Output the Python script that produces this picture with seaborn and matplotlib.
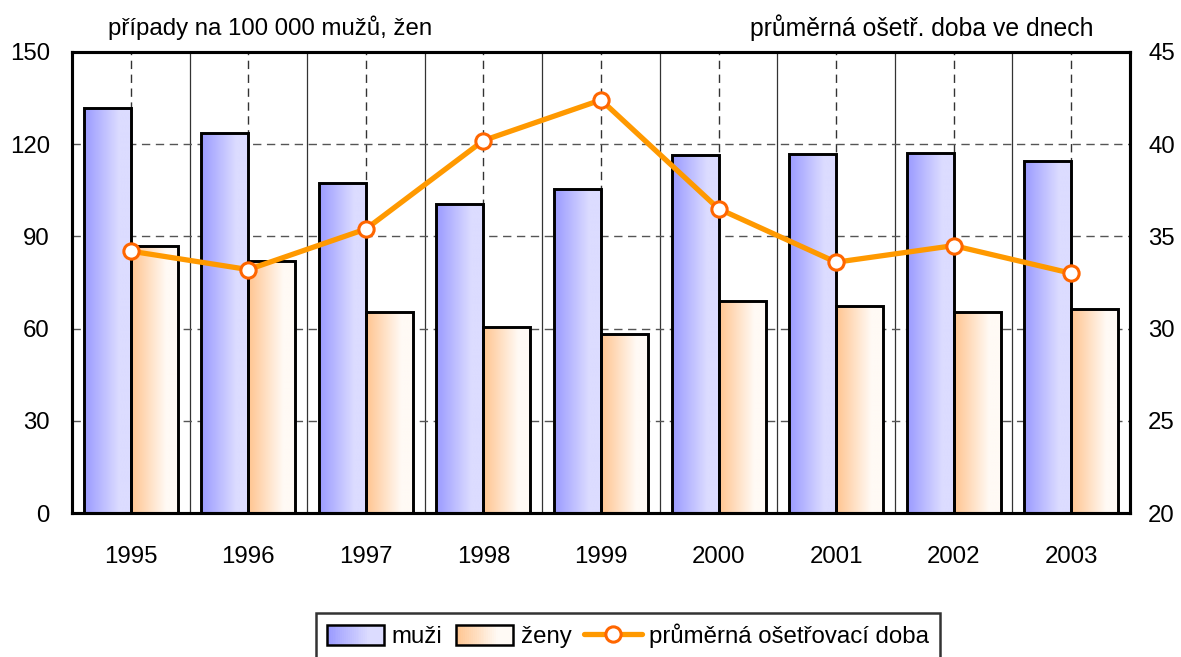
import numpy as np
import pandas as pd
import matplotlib
matplotlib.use('Agg')
import matplotlib.pyplot as plt
import seaborn as sns
from matplotlib.patches import Rectangle, Patch
from matplotlib.lines import Line2D
from matplotlib.legend_handler import HandlerBase
from matplotlib.colors import LinearSegmentedColormap, to_rgb

years = ['1995', '1996', '1997', '1998', '1999', '2000', '2001', '2002', '2003']
muzi = [131.9, 123.6, 107.4, 100.5, 105.3, 116.4, 116.8, 117.1, 114.6]
zeny = [87.0, 82.1, 65.4, 60.5, 58.2, 69.1, 67.4, 65.4, 66.4]
doba = [34.2, 33.2, 35.4, 40.2, 42.4, 36.5, 33.6, 34.5, 33.0]

series_names = ['muži', 'ženy']
line_name = 'průměrná ošetřovací doba'
left_label = 'případy na 100 000 mužů, žen'
right_label = 'průměrná ošetř. doba ve dnech'

grad_colors = {'muži': ('#9a9aff', '#dcdcff'), 'ženy': ('#ffc48f', '#fffaf5')}
line_color = '#ff9900'
marker_edge = '#ff6600'

sns.set_theme(style='white')
plt.rcParams['font.family'] = ['Liberation Sans', 'DejaVu Sans']
plt.rcParams['text.color'] = 'black'
plt.rcParams['xtick.color'] = 'black'
plt.rcParams['ytick.color'] = 'black'
FS = 17.3

df = pd.DataFrame({
    'rok': years * 2,
    'hodnota': muzi + zeny,
    'pohlaví': [series_names[0]] * len(years) + [series_names[1]] * len(years),
})
dfl = pd.DataFrame({'rok': years, 'doba': doba})

fig = plt.figure(figsize=(11.81, 6.57), dpi=100)
ax = fig.add_axes([72 / 1181, 1 - 513 / 657, (1130 - 72) / 1181, (513 - 52) / 657])

sns.barplot(data=df, x='rok', y='hodnota', hue='pohlaví', hue_order=series_names,
            palette=['#bbbbff', '#ffe0c0'], width=0.8, ax=ax, legend=False,
            edgecolor='black', linewidth=2.1, saturation=1)

# gradient fill clipped to each bar
n = len(years)
for i, p in enumerate(ax.patches[:2 * n]):
    name = series_names[i // n]
    cmap = LinearSegmentedColormap.from_list(name, list(grad_colors[name]))
    x0, y0 = p.get_x(), p.get_y()
    w, h = p.get_width(), p.get_height()
    grad = np.linspace(0, 1, 256).reshape(1, -1)
    grad = np.clip(grad * 1.35, 0, 1)
    im = ax.imshow(grad, extent=[x0, x0 + w, y0, y0 + h], aspect='auto',
                   cmap=cmap, zorder=1.5, interpolation='bilinear')
    im.set_clip_path(p)
    p.set_facecolor('none')
    p.set_zorder(2)

ax.set_xlim(-0.5, n - 0.5)
ax.set_ylim(0, 150)
ax.set_yticks([0, 30, 60, 90, 120, 150])
ax.set_xticks(range(n))
ax.set_xticklabels(years)
ax.set_xticks(np.arange(-0.5, n, 1.0), minor=True)
ax.set_axisbelow(True)
ax.grid(False)
ax.yaxis.grid(True, which='major', color='#555555', linestyle=(0, (6, 4)), linewidth=1.0)
ax.xaxis.grid(True, which='major', color='#333333', linestyle=(0, (6, 4)), linewidth=1.0)
ax.xaxis.grid(True, which='minor', color='#333333', linestyle='-', linewidth=0.9)
ax.set_xlabel('')
ax.set_ylabel('')
ax.tick_params(axis='x', which='both', length=0, pad=24, labelsize=FS)
ax.tick_params(axis='y', length=0, pad=16, labelsize=FS)
for s in ax.spines.values():
    s.set_linewidth(2.2)
    s.set_color('black')

ax2 = ax.twinx()
sns.pointplot(data=dfl, x='rok', y='doba', ax=ax2, color=line_color, markers='o',
              linestyles='-', markersize=11, linewidth=3.8,
              markerfacecolor='white', markeredgecolor=marker_edge, markeredgewidth=2.2)
ax2.set_xlim(-0.5, n - 0.5)
ax2.set_ylim(20, 45)
ax2.set_yticks([20, 25, 30, 35, 40, 45])
ax2.set_ylabel('')
ax2.set_xlabel('')
ax2.grid(False)
ax2.tick_params(axis='y', length=0, pad=13, labelsize=FS)
for s in ax2.spines.values():
    s.set_linewidth(2.2)
    s.set_color('black')

fig.text(108 / 1181, 1 - 28 / 657, left_label, ha='left', va='center', fontsize=FS)
fig.text(1093 / 1181, 1 - 28 / 657, right_label, ha='right', va='center', fontsize=FS * 1.03)


class GradHandler(HandlerBase):
    def __init__(self, c0, c1):
        super().__init__()
        self.c0 = np.array(to_rgb(c0))
        self.c1 = np.array(to_rgb(c1))

    def create_artists(self, legend, orig_handle, xdescent, ydescent, width, height, fontsize, trans):
        arts = []
        k = 30
        for j in range(k):
            t = min(1.0, (j / (k - 1)) * 1.35)
            c = self.c0 * (1 - t) + self.c1 * t
            arts.append(Rectangle((-xdescent + width * j / k, -ydescent), width / k * 1.05, height,
                                  facecolor=c, edgecolor='none', transform=trans))
        arts.append(Rectangle((-xdescent, -ydescent), width, height, facecolor='none',
                              edgecolor='black', linewidth=1.8, transform=trans))
        return arts


h1 = Patch(label=series_names[0])
h2 = Patch(label=series_names[1])
h3 = Line2D([], [], color=line_color, linewidth=3.8, marker='o', markersize=11,
            markerfacecolor='white', markeredgecolor=marker_edge, markeredgewidth=2.2)
leg = fig.legend([h1, h2, h3], [series_names[0], series_names[1], line_name],
                 handler_map={h1: GradHandler(*grad_colors['muži']),
                              h2: GradHandler(*grad_colors['ženy'])},
                 loc='upper left', bbox_to_anchor=(316 / 1181, 1 - 613 / 657),
                 ncol=3, frameon=True, fancybox=False, fontsize=FS, handlelength=2.4,
                 handleheight=0.85, handletextpad=0.3, columnspacing=0.55,
                 borderpad=0.45, borderaxespad=0, numpoints=1)
leg.get_frame().set_edgecolor('black')
leg.get_frame().set_linewidth(1.8)

fig.savefig('out.png', dpi=100)
